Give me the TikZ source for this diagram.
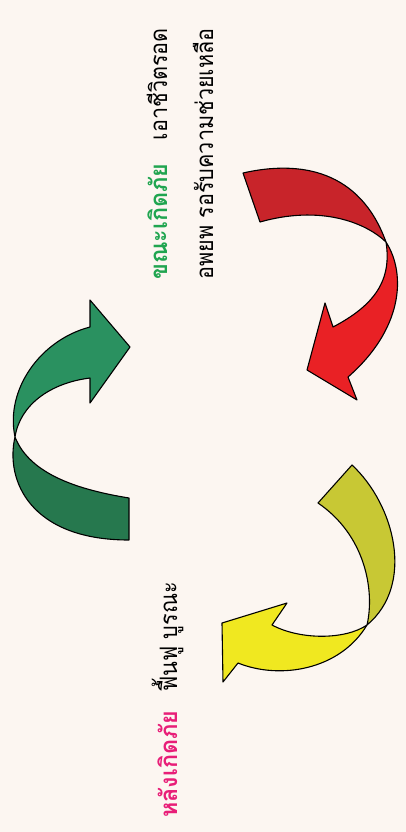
\documentclass[tikz,border=0pt]{standalone}
\usepackage{fontspec}
\newfontfamily\thai[Script=Thai,FakeStretch=0.9]{Loma}
\newfontfamily\thaib[Script=Thai,BoldFont={Loma Bold},FakeStretch=0.97]{Loma}
\definecolor{bgc}{RGB}{252,246,241}
\definecolor{reddark}{RGB}{200,36,42}
\definecolor{redlight}{RGB}{233,33,37}
\definecolor{yelolive}{RGB}{200,200,52}
\definecolor{yellight}{RGB}{240,232,32}
\definecolor{grnup}{RGB}{42,145,96}
\definecolor{grnlow}{RGB}{38,120,78}
\definecolor{tgreen}{RGB}{32,165,80}
\definecolor{tmag}{RGB}{232,30,120}
\begin{document}
\begin{tikzpicture}[x=1pt,y=-1pt,
  band/.style={draw=black,line width=1.1pt,line join=round},
  lbl/.style={rotate=90,inner sep=0pt,font=\thai\fontsize{24}{28}\selectfont},
  lblb/.style={rotate=90,inner sep=0pt,font=\thaib\bfseries\fontsize{24}{28}\selectfont}]
\fill[bgc] (0,0) rectangle (406,832);
\useasboundingbox (0,0) rectangle (406,832);
% ---------- red arrow ----------
\filldraw[band,fill=reddark] (243,173)
  .. controls (300,160) and (360,170) .. (386,242)
  .. controls (365,222) and (320,205) .. (260,222) -- cycle;
\filldraw[band,fill=redlight] (386,242)
  .. controls (407,275) and (402,330) .. (348,377)
  -- (357,400) -- (307,370) -- (325,303) -- (333,327)
  .. controls (375,305) and (392,280) .. (386,242) -- cycle;
% ---------- yellow arrow ----------
\filldraw[band,fill=yelolive] (352,465)
  .. controls (395,505) and (415,585) .. (367,625)
  .. controls (375,590) and (365,535) .. (318,503) -- cycle;
\filldraw[band,fill=yellight] (367,625)
  .. controls (345,640) and (300,640) .. (272,625)
  -- (287,603) -- (222,623) -- (223,682) -- (238,663)
  .. controls (280,680) and (340,670) .. (367,625) -- cycle;
% ---------- green arrow ----------
\filldraw[band,fill=grnlow] (129,498)
  .. controls (80,490) and (30,475) .. (15,437)
  .. controls (5,480) and (30,540) .. (129,540) -- cycle;
\filldraw[band,fill=grnup] (15,437)
  .. controls (5,390) and (40,340) .. (90,327)
  -- (90,300) -- (130,347) -- (90,403) -- (90,378)
  .. controls (50,383) and (20,405) .. (15,437) -- cycle;
% ---------- texts ----------
\node[lblb,text=tgreen,anchor=base west] (t1a) at (167,280) {ขณะเกิดภัย};
\node[lbl,anchor=base east] (t1b) at (167,28) {เอาชีวิตรอด};
\node[lbl,anchor=base west] (t2) at (213,280) {อพยพ รอรับความช่วยเหลือ};
\node[lblb,text=tmag,anchor=base west] (t3a) at (177,818) {หลังเกิดภัย};
\node[lbl,anchor=base west] (t3b) at (177,692) {ฟื้นฟู บูรณะ};
\end{tikzpicture}
\end{document}
